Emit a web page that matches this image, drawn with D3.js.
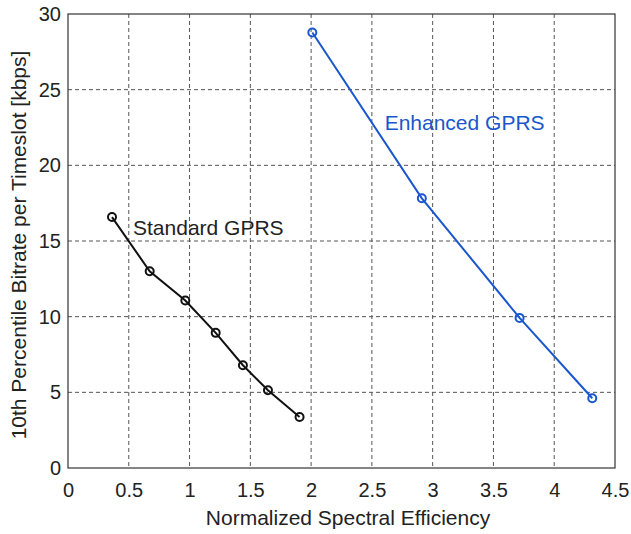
<!DOCTYPE html>
<html>
<head>
<meta charset="utf-8">
<script src="https://cdn.jsdelivr.net/npm/d3@7"></script>
<style>
  body { margin: 0; background: #fff; }
  svg text { font-family: 'Liberation Sans', Arial, sans-serif; }
</style>
</head>
<body>
<div id="chart"></div>
<script>
var xTicks = [0, 0.5, 1, 1.5, 2, 2.5, 3, 3.5, 4, 4.5];
var yTicks = [0, 5, 10, 15, 20, 25, 30];

var standardX = [0.362, 0.672, 0.965, 1.215, 1.439, 1.645, 1.905];
var standardY = [16.58, 13.0, 11.07, 8.93, 6.79, 5.14, 3.37];

var enhancedX = [2.01, 2.911, 3.715, 4.313];
var enhancedY = [28.78, 17.82, 9.92, 4.61];

var seriesNames = ['Standard GPRS', 'Enhanced GPRS'];

var margin = { top: 14, right: 16, bottom: 66, left: 68 };
var width = 631 - margin.left - margin.right;
var height = 534 - margin.top - margin.bottom;

var svg = d3.select('#chart')
  .append('svg')
  .attr('width', 631)
  .attr('height', 534);

var g = svg.append('g')
  .attr('transform', 'translate(' + margin.left + ',' + margin.top + ')');

var x = d3.scaleLinear().domain([0, 4.5]).range([0, width]);
var y = d3.scaleLinear().domain([0, 30]).range([height, 0]);

// grid
g.append('g')
  .selectAll('line')
  .data(xTicks.slice(1, -1))
  .enter()
  .append('line')
  .attr('x1', function(d) { return x(d); })
  .attr('x2', function(d) { return x(d); })
  .attr('y1', 0)
  .attr('y2', height)
  .attr('stroke', '#555')
  .attr('stroke-dasharray', '4,3');

g.append('g')
  .selectAll('line')
  .data(yTicks.slice(1, -1))
  .enter()
  .append('line')
  .attr('x1', 0)
  .attr('x2', width)
  .attr('y1', function(d) { return y(d); })
  .attr('y2', function(d) { return y(d); })
  .attr('stroke', '#555')
  .attr('stroke-dasharray', '4,3');

// axes
var xAxis = g.append('g')
  .attr('transform', 'translate(0,' + height + ')')
  .call(d3.axisBottom(x).tickValues(xTicks).tickSize(0).tickPadding(15)
    .tickFormat(function(d) { return String(d); }));

var yAxis = g.append('g')
  .call(d3.axisLeft(y).tickValues(yTicks).tickSize(0).tickPadding(7));

[xAxis, yAxis].forEach(function(ax) {
  ax.select('.domain').remove();
  ax.selectAll('text')
    .attr('font-size', 20)
    .attr('fill', '#222')
    .style('font-family', "'Liberation Sans', Arial, sans-serif");
});

g.append('rect')
  .attr('width', width)
  .attr('height', height)
  .attr('fill', 'none')
  .attr('stroke', '#333')
  .attr('stroke-width', 1.2);

// series
var line = d3.line()
  .x(function(d) { return x(d[0]); })
  .y(function(d) { return y(d[1]); });

function drawSeries(xs, ys, color) {
  var pts = xs.map(function(v, i) { return [v, ys[i]]; });

  g.append('path')
    .datum(pts)
    .attr('d', line)
    .attr('fill', 'none')
    .attr('stroke', color)
    .attr('stroke-width', 2);

  g.append('g')
    .selectAll('circle')
    .data(pts)
    .enter()
    .append('circle')
    .attr('cx', function(d) { return x(d[0]); })
    .attr('cy', function(d) { return y(d[1]); })
    .attr('r', 4)
    .attr('fill', 'none')
    .attr('stroke', color)
    .attr('stroke-width', 2);
}

drawSeries(standardX, standardY, '#111');
drawSeries(enhancedX, enhancedY, '#1a57cc');

// labels
g.append('text')
  .attr('x', x(0.535))
  .attr('y', y(15.37))
  .attr('font-size', 21)
  .attr('fill', '#222')
  .text(seriesNames[0]);

g.append('text')
  .attr('x', x(2.605))
  .attr('y', y(22.34))
  .attr('font-size', 21)
  .attr('fill', '#1a57cc')
  .text(seriesNames[1]);

svg.append('text')
  .attr('x', 348)
  .attr('y', 525)
  .attr('text-anchor', 'middle')
  .attr('font-size', 21)
  .attr('fill', '#222')
  .text('Normalized Spectral Efficiency');

svg.append('text')
  .attr('transform', 'translate(26,245) rotate(-90)')
  .attr('text-anchor', 'middle')
  .attr('font-size', 21)
  .attr('fill', '#222')
  .text('10th Percentile Bitrate per Timeslot [kbps]');
</script>
</body>
</html>
